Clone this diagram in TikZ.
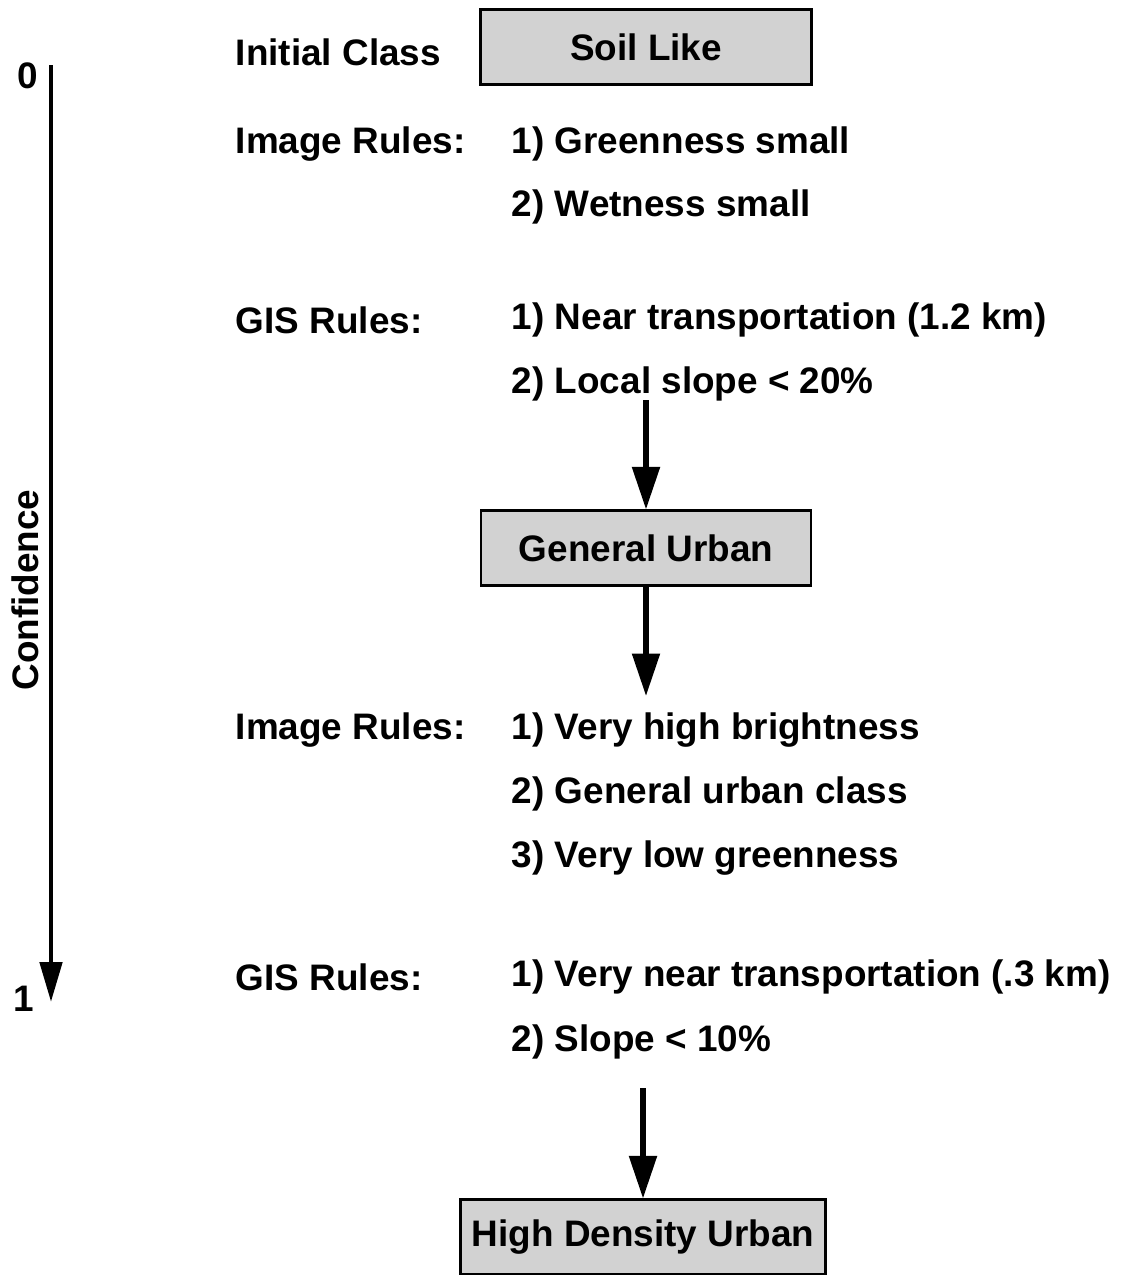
\documentclass[tikz,border=0pt]{standalone}
\usepackage{fontspec}
\setmainfont{Liberation Sans}
\usetikzlibrary{arrows.meta}
\begin{document}
\begin{tikzpicture}[x=0.02cm, y=-0.02cm,
    font=\fontsize{21}{25}\selectfont\bfseries,
    box/.style={draw, line width=1.2pt, fill=gray!35, inner sep=0pt, minimum height=1.5cm},
    rule/.style={anchor=west, inner sep=2pt},
    flow/.style={line width=3pt, -{Triangle[length=0.85cm, width=0.54cm]}}]
\useasboundingbox (0,0) rectangle (1123,1275);

% confidence axis
\coordinate (Top) at (51,65);
\coordinate (Bot) at (51,1002);
\draw[line width=2.8pt, -{Triangle[length=0.8cm, width=0.44cm]}] (Top) -- (Bot);
\node (Z) at (28,76) {0};
\node (One) at (24,999) {1};
\node[rotate=90] (Conf) at (25,590) {Confidence};

% first step
\node[rule] (IC) at (232,52) {Initial Class};
\node[box, minimum width=6.62cm] (S) at (646,47) {Soil Like};
\node[rule] (IR1) at (232,144) {Image Rules:};
\node[rule] (IR1a) at (508,144) {1) Greenness small};
\node[rule] (IR1b) at (508,207) {2) Wetness small};
\node[rule] (GR1) at (232,320) {GIS Rules:};
\node[rule] (GR1a) at (508,320) {1) Near transportation (1.2 km)};
\node[rule] (GR1b) at (508,384) {2) Local slope < 20\%};

% second step
\node[box, minimum width=6.6cm] (G) at (646,548) {General Urban};
\node[rule] (IR2) at (232,730) {Image Rules:};
\node[rule] (IR2a) at (508,730) {1) Very high brightness};
\node[rule] (IR2b) at (508,794) {2) General urban class};
\node[rule] (IR2c) at (508,858) {3) Very low greenness};
\node[rule] (GR2) at (232,977) {GIS Rules:};
\node[rule] (GR2a) at (508,977) {1) Very near transportation (.3 km)};
\node[rule] (GR2b) at (508,1042) {2) Slope < 10\%};

% result
\node[box, minimum width=7.3cm] (H) at (643,1237) {High Density Urban};

\coordinate (A1) at (646,400);
\coordinate (A2) at (646,696);
\coordinate (A3) at (643,1088);
\draw[flow] (A1) -- (G.north);
\draw[flow] (G.south) -- (A2);
\draw[flow] (A3) -- (H.north);
\end{tikzpicture}
\end{document}
